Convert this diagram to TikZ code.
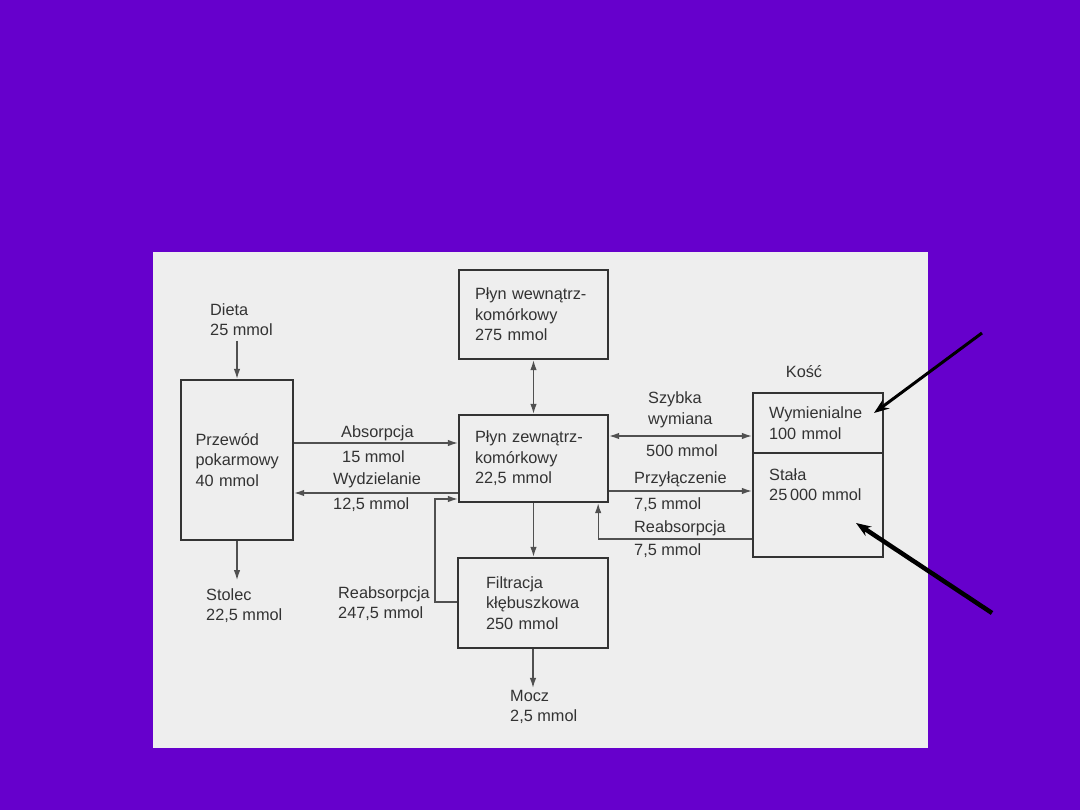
\documentclass[tikz,border=0pt]{standalone}
\usepackage{fontspec}
\setmainfont{Liberation Sans}
\usetikzlibrary{positioning, arrows.meta}
\definecolor{slidebg}{HTML}{6600CC}
\definecolor{paper}{HTML}{EEEEEE}
\definecolor{ink}{HTML}{333333}
\definecolor{wire}{HTML}{505050}

\begin{document}
\begin{tikzpicture}[x=1pt, y=-1pt,
    font=\fontsize{16.3}{20.5}\selectfont, text=ink,
    >={Latex[length=10pt, width=6.5pt]},
    box/.style={draw=ink, line width=2.3pt, rectangle, align=left, inner ysep=0pt},
    lbl/.style={anchor=west, align=left, inner sep=0pt},
    flow/.style={draw=wire, line width=1.3pt, ->},
    twoway/.style={draw=wire, line width=1.3pt, <->},
    pointer/.style={draw=black, -{Stealth[length=15pt, width=11pt]}}]

% Slide and scanned page
\useasboundingbox (0,0) rectangle (1080,810);
\fill[slidebg] (0,0) rectangle (1080,810);
\fill[paper] (153,252) rectangle (928,748);

% Compartments
\node[box, minimum height=160pt, text width=83pt, inner xsep=14.5pt] (gut) at (237,460) {Przewód\\pokarmowy\\40 mmol};
\node[box, minimum height=89pt, text width=117pt, inner xsep=16pt] (icf) at (533.5,314.5) {Płyn wewnątrz-\\komórkowy\\275 mmol};
\node[box, minimum height=87pt, text width=117pt, inner xsep=16pt] (ecf) at (533.5,458.5) {Płyn zewnątrz-\\komórkowy\\22,5 mmol};
\node[box, minimum height=90pt, text width=94pt, inner xsep=28pt] (glom) at (533,603) {Filtracja\\kłębuszkowa\\250 mmol};

% Bone: exchangeable part on top, fixed part below
\node (bonelbl) at (804,372) {Kość};
\node[box, minimum height=60pt, text width=98pt, inner xsep=16pt] (exch) at (818,423) {Wymienialne\\100 mmol};
\node[box, minimum height=104pt, minimum width=130pt, inner sep=0pt] (fixed) at (818,505) {};
\node[lbl] (fixedtxt) at (769,484.5) {Stała\\25\,000 mmol};

% Flow labels
\node[lbl] (dieta) at (210,319.5) {Dieta\\25 mmol};
\node[lbl] (absorb) at (341,433) {Absorpcja};
\node[lbl] (absorbval) at (342,457) {15 mmol};
\node[lbl] (secr) at (333,480) {Wydzielanie};
\node[lbl] (secrval) at (333,505) {12,5 mmol};
\node[lbl] (reabs) at (338,603.5) {Reabsorpcja\\247,5 mmol};
\node[lbl] (stolec) at (206,605.5) {Stolec\\22,5 mmol};
\node[lbl] (mocz) at (510,707) {Mocz\\2,5 mmol};
\node[lbl] (fast) at (648,410) {Szybka\\wymiana};
\node[lbl] (fastval) at (646,451) {500 mmol};
\node[lbl] (attach) at (634,479) {Przyłączenie};
\node[lbl] (attachval) at (634,505) {7,5 mmol};
\node[lbl] (boneabs) at (634,528) {Reabsorpcja};
\node[lbl] (boneabsval) at (634,551) {7,5 mmol};

% Connectors
\draw[flow, shorten <=5pt] (dieta.south -| gut.north) -- (gut.north);
\draw[flow, shorten >=8pt] (gut.south) -- (gut.south |- stolec.north);
\draw[flow] (gut.east |- 0,443) -- (ecf.west |- 0,443);
\draw[flow] (ecf.west |- 0,493) -- (gut.east |- 0,493);
\draw[twoway] (icf.south) -- (ecf.north);
\draw[flow] (ecf.south) -- (ecf.south |- glom.north);
\draw[flow] (glom.west |- 0,602) -| (435,499) -- (ecf.west |- 0,499);
\draw[flow, shorten >=2pt] (glom.south) -- (glom.south |- mocz.north);
\draw[twoway] (ecf.east |- 0,436) -- (exch.west |- 0,436);
\draw[flow] (ecf.east |- 0,491) -- (fixed.west |- 0,491);
\draw[flow] (fixed.west |- 0,539) -| ([xshift=-11pt]ecf.south east);

% Slide pointers
\coordinate (wtail) at (982,333);
\coordinate (wtip) at (874,413);
\coordinate (stail) at (992,613);
\coordinate (stip) at (856,523);
\draw[pointer, line width=3pt] (wtail) -- (wtip);
\draw[pointer, line width=4.5pt] (stail) -- (stip);

\end{tikzpicture}
\end{document}
